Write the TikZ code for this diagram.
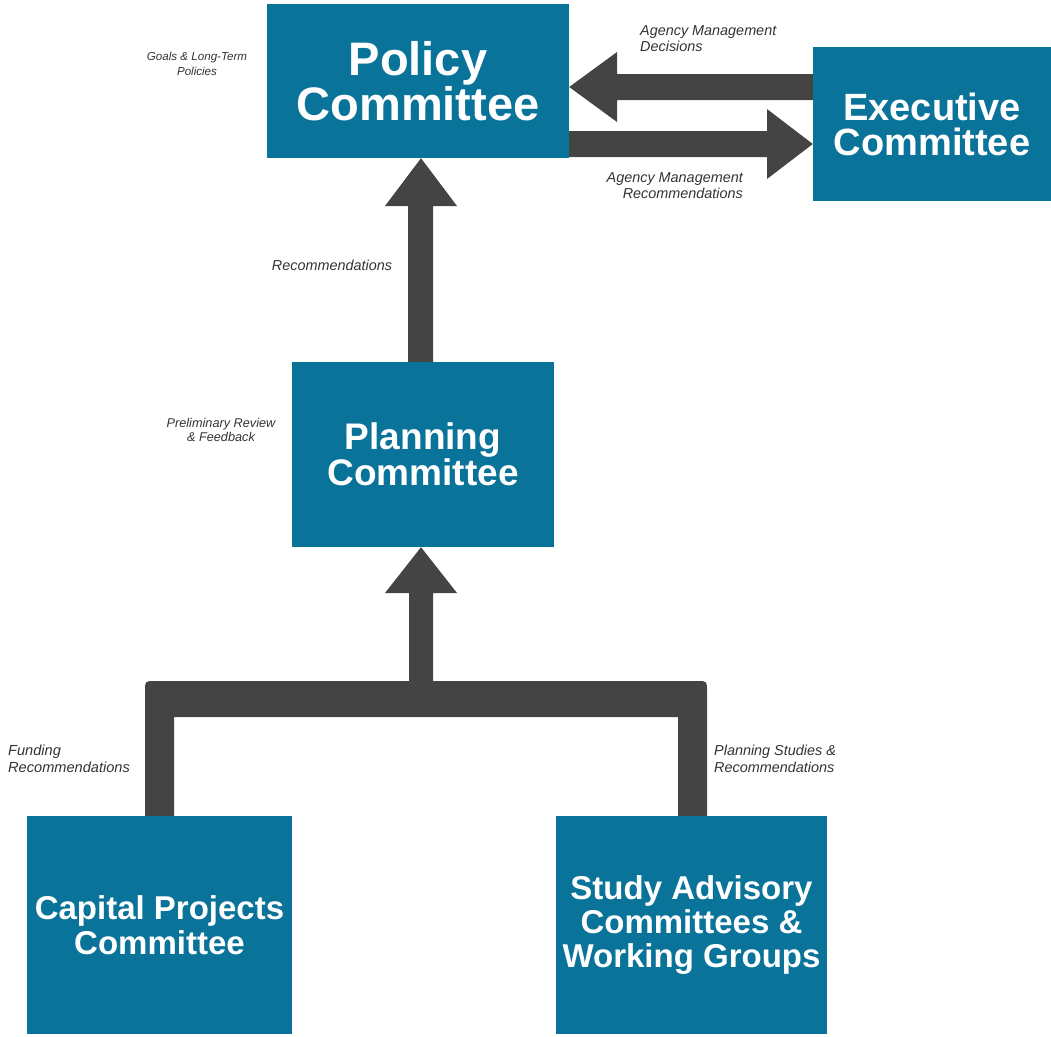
\documentclass[tikz,border=0pt]{standalone}
\usepackage{fontspec}
\setmainfont{Liberation Sans}
\usetikzlibrary{calc}
\definecolor{boxteal}{HTML}{0A7399}
\definecolor{arrowgrey}{HTML}{444444}
\definecolor{labelgrey}{HTML}{333333}
\tikzset{
  cbox/.style={rectangle, fill=boxteal, text=white, inner sep=0pt, align=center},
  lbl/.style={inner sep=0pt, text=labelgrey, font=\itshape\fontsize{14.4}{15.5}\selectfont},
  conn/.style={fill=arrowgrey}
}
\begin{document}
\begin{tikzpicture}[x=1pt,y=-1pt]
\useasboundingbox (0,0) rectangle (1051,1036);
% boxes
\node[cbox, minimum width=302pt, minimum height=154pt, font=\bfseries\fontsize{47}{41}\selectfont] (policy) at (418,81) {Policy\\Committee};
\node[cbox, minimum width=238pt, minimum height=154pt, font=\bfseries\fontsize{38}{35}\selectfont] (exec) at (932,124) {Executive\\Committee};
\node[cbox, minimum width=262pt, minimum height=185pt, font=\bfseries\fontsize{37}{34}\selectfont] (planning) at (423,454.5) {Planning\\Committee};
\node[cbox, minimum width=265pt, minimum height=218pt, font=\bfseries\fontsize{33}{35}\selectfont] (capital) at (159.5,925) {Capital Projects\\Committee};
\node[cbox, minimum width=271pt, minimum height=218pt, font=\bfseries\fontsize{33}{34}\selectfont] (study) at (691.5,925) {Study Advisory\\Committees \&\\Working Groups};
% Exec -> Policy
\fill[conn] (exec.west |- 0,74) -- (617,74) -- (617,52) -- (policy.east |- 0,87) -- (617,122) -- (617,100) -- (exec.west |- 0,100) -- cycle;
% Policy -> Exec
\fill[conn] (policy.east |- 0,131) -- (767,131) -- (767,109) -- (exec.west |- 0,144) -- (767,179) -- (767,157) -- (policy.east |- 0,157) -- cycle;
% Planning -> Policy
\fill[conn] (planning.north -| 408,0) -- (408,206) -- (385,206) -- (policy.south -| 421,0) -- (457,206) -- (433,206) -- (planning.north -| 433,0) -- cycle;
% Capital & Study -> Planning
\fill[conn] (capital.north -| 145,0) -- (145,691) .. controls (145,681) .. (155,681)
  -- (697,681) .. controls (707,681) .. (707,691) -- (study.north -| 707,0)
  -- (study.north -| 678,0) -- (678,717) -- (174,717) -- (capital.north -| 174,0) -- cycle;
\fill[conn] (409,682) -- (409,593) -- (385,593) -- (planning.south -| 421,0) -- (457,593) -- (433,593) -- (433,682) -- cycle;
% labels
\node[lbl, align=center, font=\itshape\fontsize{11.6}{15}\selectfont] (lgoals) at (197,64) {Goals \& Long-Term\\Policies};
\node[lbl, align=left, anchor=west] (ldec) at (640,38.5) {Agency Management\\Decisions};
\node[lbl, align=right, anchor=east] (lrec) at (743,185.5) {Agency Management\\Recommendations};
\node[lbl] (lrecs) at (332,265) {Recommendations};
\node[lbl, align=center, font=\itshape\fontsize{12.7}{14.5}\selectfont] (lprelim) at (221,430) {Preliminary Review\\\& Feedback};
\node[lbl, align=left, anchor=west, font=\itshape\fontsize{14.6}{17}\selectfont] (lfund) at (8,759) {Funding\\Recommendations};
\node[lbl, align=left, anchor=west, font=\itshape\fontsize{14.4}{17}\selectfont] (lstud) at (714,759) {Planning Studies \&\\Recommendations};
\end{tikzpicture}
\end{document}
